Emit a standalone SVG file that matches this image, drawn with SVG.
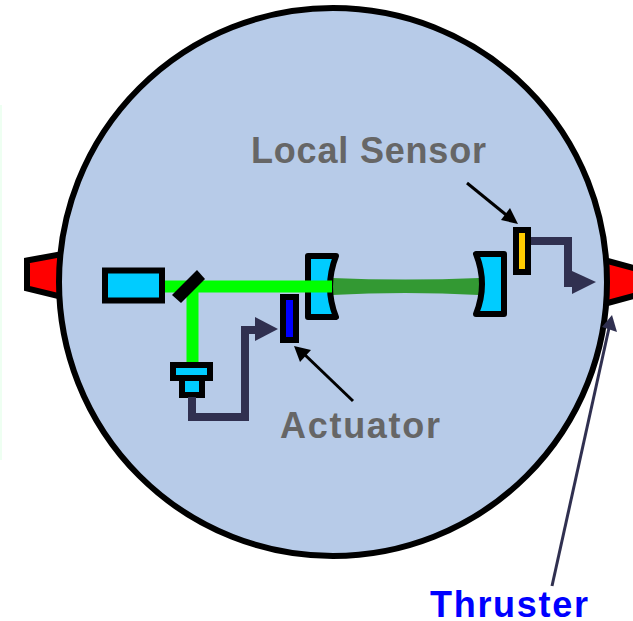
<svg xmlns="http://www.w3.org/2000/svg" width="633" height="621" viewBox="0 0 633 621">
<style>
.o{stroke:#000;stroke-width:6;stroke-linejoin:round}
.c{fill:#00ccff}
.w{fill:none;stroke:#303050;stroke-width:8}
.h{fill:#303050}
.t{font-family:"Liberation Sans",Arial,sans-serif;font-weight:bold;font-size:36px}
</style>
<rect width="633" height="621" fill="#fff"/>
<rect id="edge" x="0" y="105" width="2" height="355" fill="#eefff2"/>
<g id="thruster-left"><polygon class="o" points="27,260.5 62,254 62,297 27,288.5" fill="#ff0000" style="stroke-linejoin:miter"/></g>
<g id="thruster-right"><polygon class="o" points="604,260 645,271 645,293 604,304" fill="#ff0000" style="stroke-linejoin:miter"/></g>
<g id="body"><circle cx="333" cy="282" r="274" fill="#b7cbe8" stroke="#000" stroke-width="6"/></g>
<g id="beams">
<path d="M332,278 Q405,281 479,278 V295 Q405,291 332,295 Z" fill="#339933"/>
<path d="M162,286.5 H332 M192.5,286 V364" fill="none" stroke="#00ff00" stroke-width="12"/>
</g>
<g id="laser"><rect class="o c" x="105" y="270.5" width="57" height="30" style="stroke-linejoin:miter"/></g>
<g id="mirror"><polygon points="172,295 197,270 205,279 181,303" fill="#000"/></g>
<g id="detector">
<rect class="o c" x="173" y="365" width="37" height="13" style="stroke-linejoin:miter"/>
<rect class="o c" x="182" y="378" width="20" height="17" style="stroke-linejoin:miter"/>
</g>
<g id="lens-1"><path class="o c" d="M308,256 H336 Q324,287 336,317 H308 Z"/></g>
<path d="M305,286.5 H332" fill="none" stroke="#00ff00" stroke-width="12"/>
<g id="lens-2"><path class="o c" d="M476,254 H504 V314 H476 Q488,284 476,254 Z"/></g>
<g id="actuator"><rect x="283" y="297" width="13" height="43" fill="#0000ff" stroke="#000" stroke-width="6"/></g>
<g id="sensor"><rect x="516" y="230" width="12" height="42" fill="#ffcc00" stroke="#000" stroke-width="6"/></g>
<g id="connectors">
<path class="w" d="M192,397 V417 H245 V330 H258"/>
<polygon class="h" points="255,317 278,329 255,341"/>
<path class="w" d="M531,241 H568 V283 H574"/>
<polygon class="h" points="572,271 596,282 572,294"/>
<path d="M467,183 L510,218" fill="none" stroke="#000" stroke-width="3"/>
<polygon points="518,224 501,220 510,208" fill="#000"/>
<path d="M353,401 L303,353" fill="none" stroke="#000" stroke-width="3"/>
<polygon points="294,346 311,350 300,362" fill="#000"/>
<path d="M552,586 L609,328" fill="none" stroke="#303050" stroke-width="3"/>
<polygon class="h" points="612,315 602,327 617,332"/>
</g>
<g id="labels">
<text class="t" x="251" y="163" fill="#666666" textLength="235" lengthAdjust="spacing">Local Sensor</text>
<text class="t" x="280" y="438" fill="#666666" textLength="160" lengthAdjust="spacing">Actuator</text>
<text class="t" x="430" y="617" fill="#0000ff" textLength="158" lengthAdjust="spacing">Thruster</text>
</g>
</svg>
